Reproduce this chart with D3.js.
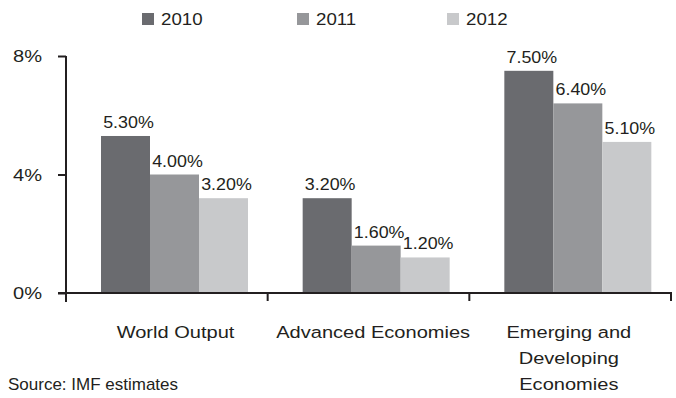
<!DOCTYPE html>
<html><head><meta charset="utf-8">
<script src="https://cdn.jsdelivr.net/npm/d3@7/dist/d3.min.js"></script>
<style>body{margin:0;background:#fff}svg{display:block}text{font-family:"Liberation Sans",Arial,Helvetica,sans-serif;fill:#231f20}</style>
</head><body><svg id="c" width="676" height="398"></svg>
<script>
const categories = [["World Output"], ["Advanced Economies"], ["Emerging and", "Developing", "Economies"]];
const categoryKeys = ["World Output", "Advanced Economies", "Emerging and Developing Economies"];
const years = ["2010", "2011", "2012"];
const values2010 = [5.3, 3.2, 7.5];
const values2011 = [4.0, 1.6, 6.4];
const values2012 = [3.2, 1.2, 5.1];
const yTicks = [0, 4, 8];
const source = "Source: IMF estimates";

const series = [values2010, values2011, values2012];
const colors = ["#6a6b6f", "#96979a", "#c8c9cb"];
const labelNudge = [2, -2, -8];
const svg = d3.select("#c");

// text helper: horizontally stretched text anchored at (x, y)
function stext(parent, x, y, str, size, sx, anchor) {
  const g = parent.append("g").attr("transform", `translate(${x},${y}) scale(${sx},1)`);
  g.append("text").attr("x", 0).attr("y", 0).attr("font-size", size)
    .attr("text-anchor", anchor || "start").text(str);
  return g;
}

const y = d3.scaleLinear().domain([0, 8]).range([293, 56]);
const x = d3.scaleBand().domain(categoryKeys).range([66, 671]);
const inner = d3.scaleBand().domain(years).range([0, 147]);
const groupOffset = 35;

// bars
years.forEach((yr, si) => {
  const g = svg.append("g");
  g.selectAll("rect").data(series[si]).join("rect")
    .attr("x", (d, i) => x(categoryKeys[i]) + groupOffset + inner(yr))
    .attr("width", inner.bandwidth())
    .attr("y", d => y(d))
    .attr("height", d => y(0) - y(d))
    .attr("fill", colors[si]);
  series[si].forEach((d, i) => {
    stext(svg, x(categoryKeys[i]) + groupOffset + inner(yr) + inner.bandwidth() / 2 + 3,
      y(d) - 8, d.toFixed(2) + "%", 17, 1.05, "middle");
  });
});

// y axis
const yAxis = d3.axisLeft(y).tickValues(yTicks).tickFormat("").tickSize(8);
const ya = svg.append("g").attr("transform", "translate(66,0)").call(yAxis);
ya.select(".domain").remove();
ya.selectAll("line").attr("stroke", "#231f20").attr("stroke-width", 2);
yTicks.forEach(t => stext(svg, 42, y(t) + 6, t + "%", 17, 1.18, "end"));
svg.append("line").attr("x1", 66).attr("x2", 66).attr("y1", y(8)).attr("y2", 302)
  .attr("stroke", "#231f20").attr("stroke-width", 2);

// x axis baseline and category ticks
svg.append("line").attr("x1", 58).attr("x2", 672).attr("y1", y(0)).attr("y2", y(0))
  .attr("stroke", "#231f20").attr("stroke-width", 2);
const bounds = categoryKeys.map(k => x(k)).concat([x.range()[1]]);
svg.selectAll(".ctick").data(bounds.slice(1)).join("line")
  .attr("x1", d => d).attr("x2", d => d).attr("y1", y(0)).attr("y2", 301)
  .attr("stroke", "#231f20").attr("stroke-width", 2);

// category labels
categories.forEach((lines, i) => {
  const cx = x(categoryKeys[i]) + groupOffset + 147 / 2 - 1 + labelNudge[i];
  lines.forEach((ln, j) => stext(svg, cx, 338 + j * 26, ln, 17, 1.18, "middle"));
});

// legend
const legX = [142, 297, 447];
years.forEach((yr, i) => {
  svg.append("rect").attr("x", legX[i]).attr("y", 13).attr("width", 12).attr("height", 12).attr("fill", colors[i]);
  stext(svg, legX[i] + 19, 25, yr, 17, 1.1, "start");
});

stext(svg, 8, 390, source, 17, 1.0, "start");
</script></body></html>
